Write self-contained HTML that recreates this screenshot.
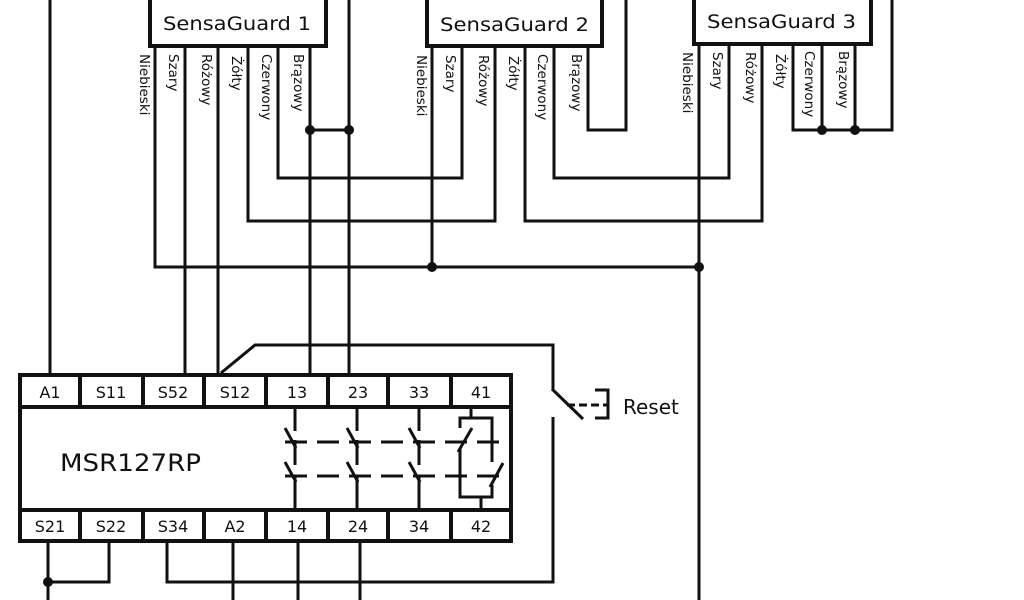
<!DOCTYPE html>
<html><head><meta charset="utf-8"><style>
html,body{margin:0;padding:0;background:#fff;}
svg{display:block;}
text{font-family:"DejaVu Sans","Liberation Sans",sans-serif;fill:#111;}
</style></head><body>
<svg width="1024" height="600" viewBox="0 0 1024 600" xmlns="http://www.w3.org/2000/svg">
<g fill="none" stroke="#111" stroke-width="3">
<rect x="150" y="-5" width="176" height="51" stroke-width="4" fill="#fff"/>
<rect x="427" y="-5" width="175" height="51" stroke-width="4" fill="#fff"/>
<rect x="694" y="-5" width="177" height="49" stroke-width="4" fill="#fff"/>
<line x1="50" y1="0" x2="50" y2="373"/>
<line x1="349" y1="0" x2="349" y2="373"/>
<polyline points="155,46 155,267 699,267"/>
<line x1="185" y1="46" x2="185" y2="373"/>
<line x1="218" y1="46" x2="218" y2="373"/>
<polyline points="248,46 248,221 495,221 495,46"/>
<polyline points="278,46 278,178 462,178 462,46"/>
<line x1="310" y1="46" x2="310" y2="373"/>
<line x1="310" y1="130" x2="349" y2="130"/>
<line x1="432" y1="46" x2="432" y2="267"/>
<polyline points="525,46 525,221 762,221 762,44"/>
<polyline points="554,46 554,178 729,178 729,44"/>
<polyline points="588,46 588,130 626,130 626,0"/>
<line x1="699" y1="44" x2="699" y2="600"/>
<polyline points="793,44 793,130 892,130 892,0"/>
<line x1="822" y1="44" x2="822" y2="130"/>
<line x1="855" y1="44" x2="855" y2="130"/>
<rect x="20" y="375" width="491" height="166" stroke-width="4" fill="#fff"/>
<line x1="20" y1="407" x2="511" y2="407" stroke-width="4"/>
<line x1="20" y1="510" x2="511" y2="510" stroke-width="4"/>
<g stroke-width="4">
<line x1="80" y1="375" x2="80" y2="407"/><line x1="143" y1="375" x2="143" y2="407"/><line x1="204" y1="375" x2="204" y2="407"/><line x1="266" y1="375" x2="266" y2="407"/><line x1="328" y1="375" x2="328" y2="407"/><line x1="388" y1="375" x2="388" y2="407"/><line x1="451" y1="375" x2="451" y2="407"/>
<line x1="80" y1="510" x2="80" y2="541"/><line x1="143" y1="510" x2="143" y2="541"/><line x1="204" y1="510" x2="204" y2="541"/><line x1="266" y1="510" x2="266" y2="541"/><line x1="328" y1="510" x2="328" y2="541"/><line x1="388" y1="510" x2="388" y2="541"/><line x1="451" y1="510" x2="451" y2="541"/>
</g>
<polyline points="221,373 255,345 553,345 553,390"/>
<line x1="552" y1="389" x2="583" y2="419"/>
<polyline points="553,417 553,582 167,582 167,541"/>
<polyline points="595,390 608,390 608,418 595,418"/>
<line x1="567" y1="405" x2="608" y2="405" stroke-dasharray="8,4"/>
<polyline points="48,541 48,600"/>
<polyline points="48,582 109,582 109,541"/>
<line x1="233" y1="541" x2="233" y2="600"/>
<line x1="298" y1="541" x2="298" y2="600"/>
<line x1="360" y1="541" x2="360" y2="600"/>
<g>
<line x1="295" y1="408" x2="295" y2="431"/><line x1="285" y1="428" x2="296" y2="448"/><line x1="295" y1="440" x2="295" y2="465"/>
<line x1="285" y1="462" x2="296" y2="482"/><line x1="295" y1="475" x2="295" y2="509"/>
<line x1="357" y1="408" x2="357" y2="431"/><line x1="347" y1="428" x2="358" y2="448"/><line x1="357" y1="440" x2="357" y2="465"/>
<line x1="347" y1="462" x2="358" y2="482"/><line x1="357" y1="475" x2="357" y2="509"/>
<line x1="419" y1="408" x2="419" y2="431"/><line x1="409" y1="428" x2="420" y2="448"/><line x1="419" y1="440" x2="419" y2="465"/>
<line x1="409" y1="462" x2="420" y2="482"/><line x1="419" y1="475" x2="419" y2="509"/>
<line x1="471" y1="408" x2="471" y2="418"/>
<polyline points="460,428 460,418 492,418 492,462"/>
<polyline points="460,448 460,497 492,497 492,485"/>
<line x1="458" y1="452" x2="472" y2="428"/>
<line x1="490" y1="487" x2="503" y2="463"/>
<line x1="481" y1="497" x2="481" y2="509"/>
<line x1="285" y1="442" x2="505" y2="442" stroke-dasharray="22,10"/>
<line x1="285" y1="476" x2="505" y2="476" stroke-dasharray="22,10"/>
</g>
</g>
<g fill="#111">
<circle cx="310" cy="130" r="5"/><circle cx="349" cy="130" r="5"/>
<circle cx="432" cy="267" r="5"/><circle cx="699" cy="267" r="5"/>
<circle cx="822" cy="130" r="5"/><circle cx="855" cy="130" r="5"/>
<circle cx="48" cy="582" r="5"/>
</g>
<text x="163" y="30" font-size="19" textLength="148" lengthAdjust="spacingAndGlyphs">SensaGuard 1</text>
<text x="440" y="31" font-size="19" textLength="149" lengthAdjust="spacingAndGlyphs">SensaGuard 2</text>
<text x="707" y="28" font-size="19" textLength="149" lengthAdjust="spacingAndGlyphs">SensaGuard 3</text>
<text x="60" y="471" font-size="24" textLength="141" lengthAdjust="spacingAndGlyphs">MSR127RP</text>
<text x="623" y="414" font-size="20">Reset</text>
<g font-size="16" text-anchor="middle">
<text x="50" y="398">A1</text><text x="111" y="398">S11</text><text x="173" y="398">S52</text><text x="235" y="398">S12</text><text x="297" y="398">13</text><text x="358" y="398">23</text><text x="419" y="398">33</text><text x="481" y="398">41</text>
<text x="50" y="532">S21</text><text x="111" y="532">S22</text><text x="173" y="532">S34</text><text x="235" y="532">A2</text><text x="297" y="532">14</text><text x="358" y="532">24</text><text x="419" y="532">34</text><text x="481" y="532">42</text>
</g>
<g font-size="13.5">
<text transform="translate(140,54) rotate(90)">Niebieski</text>
<text transform="translate(169,54) rotate(90)">Szary</text>
<text transform="translate(202,54) rotate(90)">Różowy</text>
<text transform="translate(232,56) rotate(90)">Żółty</text>
<text transform="translate(262,54) rotate(90)">Czerwony</text>
<text transform="translate(294,54) rotate(90)">Brązowy</text>
<text transform="translate(417,55) rotate(90)">Niebieski</text>
<text transform="translate(446,55) rotate(90)">Szary</text>
<text transform="translate(479,55) rotate(90)">Różowy</text>
<text transform="translate(509,56) rotate(90)">Żółty</text>
<text transform="translate(538,54) rotate(90)">Czerwony</text>
<text transform="translate(572,54) rotate(90)">Brązowy</text>
<text transform="translate(683,52) rotate(90)">Niebieski</text>
<text transform="translate(713,52) rotate(90)">Szary</text>
<text transform="translate(746,52) rotate(90)">Różowy</text>
<text transform="translate(776,54) rotate(90)">Żółty</text>
<text transform="translate(805,51) rotate(90)">Czerwony</text>
<text transform="translate(839,51) rotate(90)">Brązowy</text>
</g>
</svg>
</body></html>
